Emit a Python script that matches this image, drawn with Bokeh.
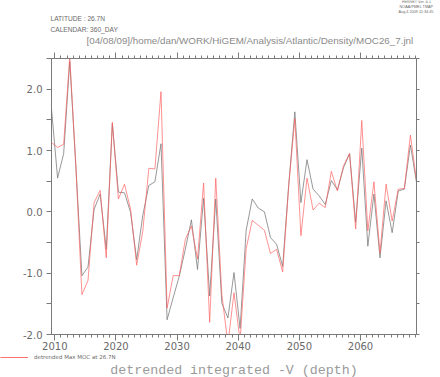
import numpy as np
from bokeh.plotting import figure
from bokeh.layouts import column, row
from bokeh.models import (Range1d, LinearAxis, FixedTicker, PrintfTickFormatter,
                          Label, Legend, LegendItem)
from bokeh.embed import file_html
from bokeh.resources import INLINE

# ---- data ----
t_start, t_end = 2009.46, 2069.16
gray_vals = [1.68, 0.55, 0.95, 2.45, 0.75, -1.04, -0.90, 0.04, 0.29, -0.61,
             1.44, 0.32, 0.31, -0.01, -0.78, -0.06, 0.43, 0.49, 1.11, -1.76,
             -1.40, -1.05, -0.61, -0.13, -0.94, 0.22, -1.37, 0.21, -1.49, -1.73,
             -0.99, -1.90, -0.30, 0.21, 0.06, 0.00, -0.42, -0.53, -0.89, 0.45,
             1.63, 0.15, 0.85, 0.37, 0.26, 0.12, 0.51, 0.36, 0.72, 0.95,
             -0.17, 1.04, -0.56, 0.29, -0.75, 0.18, -0.34, 0.34, 0.37, 1.09,
             0.48]
red_vals = [1.13, 1.05, 1.10, 2.53, 0.75, -1.35, -1.12, 0.15, 0.35, -0.75,
            1.46, 0.21, 0.45, 0.04, -0.87, -0.32, 0.71, 0.70, 1.96, -1.57,
            -1.04, -1.04, -0.45, -0.23, -0.77, 0.47, -1.80, 0.55, -1.35, -2.15,
            -1.32, -2.10, -0.60, -0.14, -0.22, -0.30, -0.68, -0.61, -0.98, 0.43,
            1.52, -0.39, 0.55, 0.03, 0.14, 0.07, 0.66, 0.34, 0.75, 0.95,
            -0.28, 1.49, -0.31, 0.49, -0.67, 0.45, -0.15, 0.37, 0.38, 1.25,
            0.51]
years = np.linspace(t_start, t_end, len(gray_vals))
x_major = [2010, 2020, 2030, 2040, 2050, 2060]
x_minor = list(range(2010, 2070))
y_major = [-2.0, -1.0, 0.0, 1.0, 2.0]
y_minor = [-1.5, -0.5, 0.5, 1.5, 2.5]
legend_label = "detrended Max MOC at 26.7N"
title_text = "detrended integrated -V (depth)"
header1 = "LATITUDE : 26.7N"
header2 = "CALENDAR: 360_DAY"
path_text = "[04/08/09]/home/dan/WORK/HiGEM/Analysis/Atlantic/Density/MOC26_7.jnl"
ferret_text = "FERRET Ver. 6.1\nNOAA/PMEL TMAP\nAug  4 2009 11:34:45"

# ---- layout ----
W = 440
HEAD_H, MAIN_H, FOOT_H = 52, 301, 24
AX = "#7a7a7a"
TXT = "#6a6a6a"
GRAY = "#777777"
RED = "#ff5c5c"


def blank_figure(h):
    f = figure(width=W, height=h, output_backend="svg", toolbar_location=None,
               x_range=Range1d(0, W), y_range=Range1d(h, 0),
               min_border=0, x_axis_location=None, y_axis_location=None)
    f.outline_line_color = None
    f.grid.visible = False
    f.background_fill_color = "white"
    f.border_fill_color = "white"
    return f


def add_label(f, x, y, text, size, font="Liberation Sans", color=TXT,
              align="left"):
    f.add_layout(Label(x=x, y=y, text=text, text_font_size=size,
                       text_font=font, text_color=color, text_align=align,
                       text_baseline="middle"))


# ---- header ----
head = blank_figure(HEAD_H)
add_label(head, 416, 6.5, ferret_text, "3.8px", align="center")
add_label(head, 50, 18, header1, "6.6px")
add_label(head, 50, 29, header2, "6.6px")
add_label(head, 86, 40, path_text, "9.8px", color="#8a8a8a")

# ---- main plot ----
p = figure(width=W, height=MAIN_H, output_backend="svg", toolbar_location=None,
           x_range=Range1d(t_start, t_end), y_range=Range1d(-2.0, 2.5),
           min_border_left=51, min_border_right=24,
           min_border_top=6, min_border_bottom=19,
           x_axis_location=None, y_axis_location=None)
p.outline_line_color = AX
p.background_fill_color = "white"
p.border_fill_color = "white"
p.grid.visible = False


def style_axis(ax, labels=True, major_out=6, minor_out=3, standoff=3):
    ax.axis_line_color = AX
    ax.major_tick_line_color = AX
    ax.minor_tick_line_color = AX
    ax.major_tick_in = 0
    ax.minor_tick_in = 0
    ax.major_tick_out = major_out
    ax.minor_tick_out = minor_out
    ax.major_label_text_color = TXT
    ax.major_label_text_font = "DejaVu Sans"
    ax.major_label_text_font_size = "10px"
    ax.major_label_standoff = standoff
    if not labels:
        ax.major_label_text_font_size = "0px"


xb = LinearAxis(ticker=FixedTicker(ticks=x_major, minor_ticks=x_minor),
                formatter=PrintfTickFormatter(format="%d"))
style_axis(xb, True, 6, 3, 1)
p.add_layout(xb, "below")

xt = LinearAxis(ticker=FixedTicker(ticks=x_major, minor_ticks=x_minor),
                major_label_overrides={v: "" for v in x_major})
style_axis(xt, False, 6, 3, 0)
p.add_layout(xt, "above")

yl = LinearAxis(ticker=FixedTicker(ticks=y_major, minor_ticks=y_minor),
                formatter=PrintfTickFormatter(format="%.1f"))
style_axis(yl, True, 5, 5, 4)
p.add_layout(yl, "left")

yr = LinearAxis(ticker=FixedTicker(ticks=y_major, minor_ticks=y_minor),
                major_label_overrides={v: "" for v in y_major})
style_axis(yr, False, 3, 3, 0)
p.add_layout(yr, "right")

p.line(years, gray_vals, line_color=GRAY, line_width=0.9, line_alpha=0.85)
p.line(years, red_vals, line_color=RED, line_width=0.9, line_alpha=0.75)

# ---- footer: legend + title ----
foot = blank_figure(FOOT_H)
key = foot.line(x=[np.nan], y=[np.nan], line_color="#ff7070", line_width=1.0,
                line_alpha=1.0)
leg = Legend(items=[LegendItem(label=legend_label, renderers=[key])],
             location=(0, FOOT_H - 3.7 - 3), padding=0, margin=0,
             spacing=0, glyph_width=28, glyph_height=6, label_height=6,
             label_standoff=6, label_text_font_size="5.5px",
             label_text_color=TXT, label_text_font="DejaVu Sans",
             border_line_color=None, background_fill_alpha=0)
foot.add_layout(leg, "center")
add_label(foot, 233.5, 16.5, title_text, "13.3px", font="Liberation Mono",
          color="#9a9a9a", align="center")

layout = column(row(head), p, row(foot), spacing=0)
open("out.html", "w").write(file_html(layout, INLINE))
